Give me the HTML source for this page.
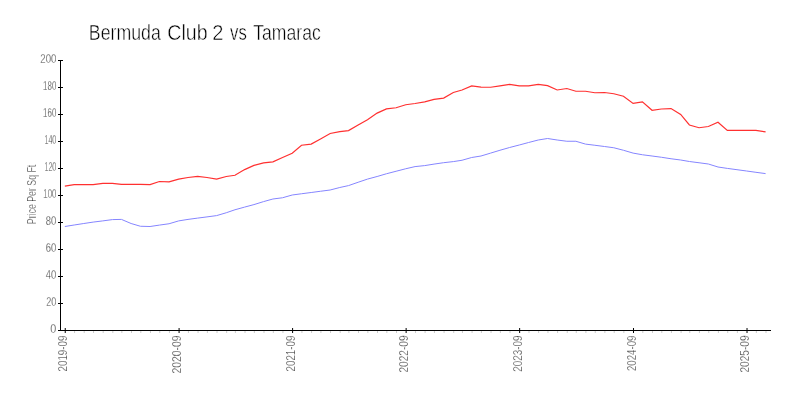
<!DOCTYPE html>
<html><head><meta charset="utf-8"><style>
html,body{margin:0;padding:0;background:#fff;width:800px;height:400px;overflow:hidden}
svg{display:block;will-change:transform}
text{font-family:"Liberation Sans",sans-serif}
.yl{font-size:12.6px;fill:#2a2a2a;stroke:#fff;stroke-width:0.32px;text-anchor:end}
.xl{font-size:12.6px;fill:#2a2a2a;stroke:#fff;stroke-width:0.32px;text-anchor:end}
</style></head><body>
<svg width="800" height="400" viewBox="0 0 800 400">
<text x="88.80" y="39.7" font-size="21.2" fill="#000" stroke="#fff" stroke-width="0.45" textLength="72.06" lengthAdjust="spacingAndGlyphs">Bermuda</text><text x="167.30" y="39.7" font-size="21.2" fill="#000" stroke="#fff" stroke-width="0.45" textLength="40.33" lengthAdjust="spacingAndGlyphs">Club</text><text x="212.25" y="39.7" font-size="21.2" fill="#000" stroke="#fff" stroke-width="0.45" textLength="11.17" lengthAdjust="spacingAndGlyphs">2</text><text x="230.00" y="39.7" font-size="21.2" fill="#000" stroke="#fff" stroke-width="0.45" textLength="16.76" lengthAdjust="spacingAndGlyphs">vs</text><text x="253.25" y="39.7" font-size="21.2" fill="#000" stroke="#fff" stroke-width="0.45" textLength="67.47" lengthAdjust="spacingAndGlyphs">Tamarac</text>
<text transform="translate(36.3,224.2) rotate(-90)" font-size="12" fill="#2a2a2a" stroke="#fff" stroke-width="0.32" textLength="59.5" lengthAdjust="spacingAndGlyphs">Price Per Sq Ft</text>
<path d="M60.5,60 V331 M58,330.5 H771 M58,330.5 H63 M58,303.5 H63 M58,276.5 H63 M58,249.5 H63 M58,222.5 H63 M58,195.5 H63 M58,168.5 H63 M58,141.5 H63 M58,114.5 H63 M58,87.5 H63 M58,60.5 H63 M65.24,328 V333 M179.08,328 V333 M292.6,328 V333 M406.13,328 V333 M519.65,328 V333 M633.49,328 V333 M747.02,328 V333" stroke="#000" stroke-width="1" fill="none"/>
<path d="M74.57,331 V333 M84.21,331 V333 M93.54,331 V333 M103.19,331 V333 M112.83,331 V333 M121.85,331 V333 M131.49,331 V333 M140.82,331 V333 M150.46,331 V333 M159.79,331 V333 M169.44,331 V333 M188.41,331 V333 M198.05,331 V333 M207.38,331 V333 M217.02,331 V333 M226.66,331 V333 M235.37,331 V333 M245.02,331 V333 M254.35,331 V333 M263.99,331 V333 M273.32,331 V333 M282.96,331 V333 M301.93,331 V333 M311.58,331 V333 M320.91,331 V333 M330.55,331 V333 M340.19,331 V333 M348.9,331 V333 M358.54,331 V333 M367.87,331 V333 M377.51,331 V333 M386.85,331 V333 M396.49,331 V333 M415.46,331 V333 M425.1,331 V333 M434.43,331 V333 M444.07,331 V333 M453.72,331 V333 M462.43,331 V333 M472.07,331 V333 M481.4,331 V333 M491.04,331 V333 M500.37,331 V333 M510.01,331 V333 M528.99,331 V333 M538.63,331 V333 M547.96,331 V333 M557.6,331 V333 M567.24,331 V333 M576.26,331 V333 M585.9,331 V333 M595.24,331 V333 M604.88,331 V333 M614.21,331 V333 M623.85,331 V333 M642.82,331 V333 M652.46,331 V333 M661.8,331 V333 M671.44,331 V333 M681.08,331 V333 M689.79,331 V333 M699.43,331 V333 M708.76,331 V333 M718.4,331 V333 M727.73,331 V333 M737.38,331 V333 M756.35,331 V333 M765.99,331 V333" stroke="#ccc" stroke-width="1" fill="none"/>
<text x="56.3" y="333.00" class="yl" textLength="6" lengthAdjust="spacingAndGlyphs">0</text><text x="56.3" y="306.00" class="yl" textLength="10" lengthAdjust="spacingAndGlyphs">20</text><text x="56.3" y="279.00" class="yl" textLength="10.5" lengthAdjust="spacingAndGlyphs">40</text><text x="56.3" y="252.00" class="yl" textLength="10.5" lengthAdjust="spacingAndGlyphs">60</text><text x="56.3" y="225.00" class="yl" textLength="10.5" lengthAdjust="spacingAndGlyphs">80</text><text x="56.3" y="198.00" class="yl" textLength="13" lengthAdjust="spacingAndGlyphs">100</text><text x="56.3" y="171.00" class="yl" textLength="11.8" lengthAdjust="spacingAndGlyphs">120</text><text x="56.3" y="144.00" class="yl" textLength="11.8" lengthAdjust="spacingAndGlyphs">140</text><text x="56.3" y="117.00" class="yl" textLength="13.2" lengthAdjust="spacingAndGlyphs">160</text><text x="56.3" y="90.00" class="yl" textLength="13.2" lengthAdjust="spacingAndGlyphs">180</text><text x="56.3" y="63.00" class="yl" textLength="16" lengthAdjust="spacingAndGlyphs">200</text>
<text transform="translate(67.3,335.5) rotate(-90)" class="xl" textLength="36" lengthAdjust="spacingAndGlyphs">2019-09</text><text transform="translate(181.2,335.5) rotate(-90)" class="xl" textLength="38" lengthAdjust="spacingAndGlyphs">2020-09</text><text transform="translate(294.7,335.5) rotate(-90)" class="xl" textLength="36" lengthAdjust="spacingAndGlyphs">2021-09</text><text transform="translate(408.2,335.5) rotate(-90)" class="xl" textLength="37" lengthAdjust="spacingAndGlyphs">2022-09</text><text transform="translate(521.8,335.5) rotate(-90)" class="xl" textLength="36.3" lengthAdjust="spacingAndGlyphs">2023-09</text><text transform="translate(635.6,335.5) rotate(-90)" class="xl" textLength="35.6" lengthAdjust="spacingAndGlyphs">2024-09</text><text transform="translate(749.1,335.5) rotate(-90)" class="xl" textLength="37" lengthAdjust="spacingAndGlyphs">2025-09</text>
<path d="M64.84,226.50 L74.17,225.00 L83.81,223.50 L93.14,222.10 L102.79,220.90 L112.43,219.60 L121.45,219.40 L131.09,223.50 L140.42,226.25 L150.06,226.50 L159.39,225.10 L169.04,223.75 L178.68,220.90 L188.01,219.40 L197.65,218.10 L206.98,216.90 L216.62,215.60 L226.26,212.75 L234.97,209.75 L244.62,207.10 L253.95,204.60 L263.59,201.60 L272.92,199.00 L282.56,197.75 L292.20,195.00 L301.53,193.75 L311.18,192.50 L320.51,191.25 L330.15,190.00 L339.79,187.50 L348.50,185.60 L358.14,182.25 L367.47,179.10 L377.11,176.50 L386.45,173.75 L396.09,171.25 L405.73,168.75 L415.06,166.60 L424.70,165.60 L434.03,164.10 L443.67,162.70 L453.32,161.60 L462.03,160.25 L471.67,157.50 L481.00,156.00 L490.64,153.10 L499.97,150.25 L509.61,147.50 L519.25,145.00 L528.59,142.50 L538.23,140.00 L547.56,138.50 L557.20,140.00 L566.84,141.25 L575.86,141.25 L585.50,144.10 L594.84,145.25 L604.48,146.50 L613.81,147.75 L623.45,150.25 L633.09,153.10 L642.42,154.75 L652.06,156.00 L661.40,157.25 L671.04,158.75 L680.68,160.00 L689.39,161.50 L699.03,162.75 L708.36,164.00 L718.00,167.00 L727.33,168.40 L736.98,169.70 L746.62,171.00 L755.95,172.30 L765.59,173.60" stroke="#8585ff" stroke-width="1" fill="none"/>
<path d="M64.84,186.10 L74.17,184.70 L83.81,184.60 L93.14,184.70 L102.79,183.30 L112.43,183.40 L121.45,184.40 L131.09,184.40 L140.42,184.40 L150.06,184.60 L159.39,181.50 L169.04,181.90 L178.68,179.10 L188.01,177.50 L197.65,176.30 L206.98,177.50 L216.62,179.10 L226.26,176.50 L234.97,175.25 L244.62,169.60 L253.95,165.40 L263.59,162.90 L272.92,161.90 L282.56,157.50 L292.20,153.30 L301.53,145.25 L311.18,144.10 L320.51,139.00 L330.15,133.50 L339.79,131.60 L348.50,130.60 L358.14,125.00 L367.47,119.75 L377.11,113.10 L386.45,108.90 L396.09,107.75 L405.73,104.75 L415.06,103.50 L424.70,101.90 L434.03,99.40 L443.67,98.10 L453.32,92.50 L462.03,90.00 L471.67,85.90 L481.00,87.10 L490.64,87.25 L499.97,85.90 L509.61,84.40 L519.25,85.90 L528.59,85.90 L538.23,84.40 L547.56,85.60 L557.20,90.00 L566.84,88.50 L575.86,91.25 L585.50,91.25 L594.84,92.75 L604.48,92.50 L613.81,93.75 L623.45,96.25 L633.09,103.40 L642.42,101.90 L652.06,110.25 L661.40,109.00 L671.04,108.60 L680.68,114.40 L689.39,125.00 L699.03,127.75 L708.36,126.50 L718.00,122.25 L727.33,130.40 L736.98,130.40 L746.62,130.40 L755.95,130.40 L765.59,131.90" stroke="#ff3030" stroke-width="1.2" fill="none"/>
</svg></body></html>
